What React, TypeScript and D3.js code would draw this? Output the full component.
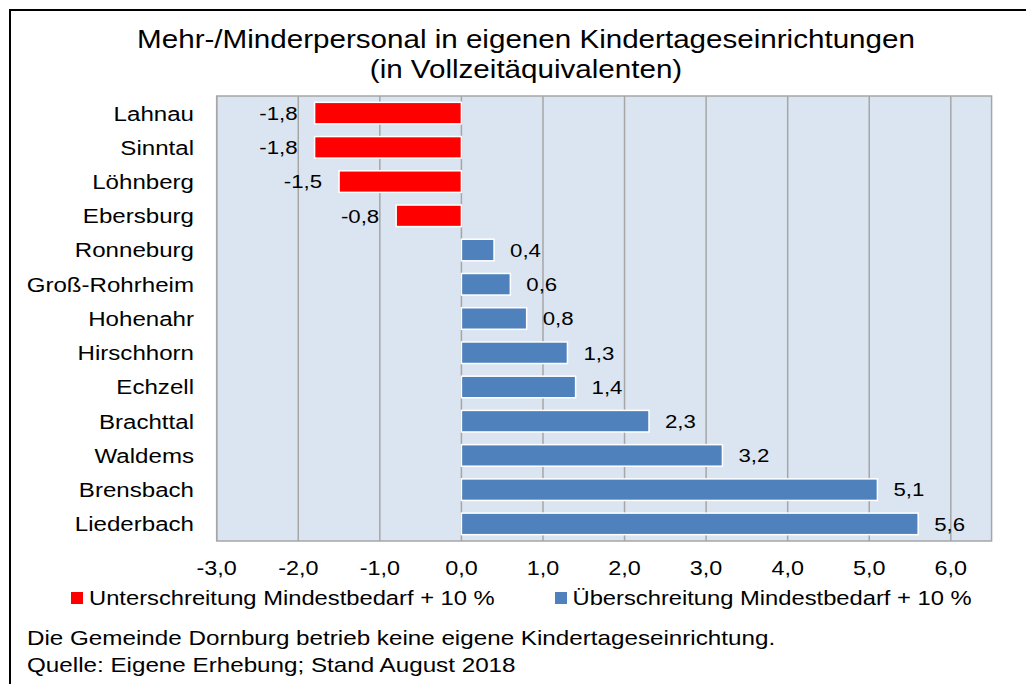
import React from "react";
import * as d3 from "d3";

const categories = ["Lahnau", "Sinntal", "Löhnberg", "Ebersburg", "Ronneburg", "Groß-Rohrheim", "Hohenahr", "Hirschhorn", "Echzell", "Brachttal", "Waldems", "Brensbach", "Liederbach"];
const values = [-1.8, -1.8, -1.5, -0.8, 0.4, 0.6, 0.8, 1.3, 1.4, 2.3, 3.2, 5.1, 5.6];
const tickValues = [-3, -2, -1, 0, 1, 2, 3, 4, 5, 6];
const titleLines = ["Mehr-/Minderpersonal in eigenen Kindertageseinrichtungen", "(in Vollzeitäquivalenten)"];
const legendLabels = ["Unterschreitung Mindestbedarf + 10 %", "Überschreitung Mindestbedarf + 10 %"];
const notes = ["Die Gemeinde Dornburg betrieb keine eigene Kindertageseinrichtung.", "Quelle: Eigene Erhebung; Stand August 2018"];

const W = 1026, H = 684;
const SX = 1.17;
const FONT = "'Liberation Sans', Arial, sans-serif";
const RED = "#FF0000", BLUE = "#4F81BD", BG = "#DBE5F1", GRID = "#A6A6A6";
const fmt = (v: number) => v.toFixed(1).replace(".", ",");

function T({ x, y, size, anchor = "start", children }: any) {
  return (
    <text transform={`translate(${x},${y}) scale(${SX},1)`} fontSize={size} textAnchor={anchor} fontFamily={FONT} fill="#000">
      {children}
    </text>
  );
}

export default function App() {
  const left = 216.7, right = 991.6, top = 96, bottom = 541;
  const x = d3.scaleLinear().domain([-3, 6.5]).range([left, right]);
  const y = d3.scaleBand<string>().domain(categories).range([top, bottom]).paddingInner(0.37).paddingOuter(0.185);
  const band = y.step();
  const fs = 20;
  const cfs = 20.6;
  return (
    <svg width={W} height={H} style={{ position: "absolute", left: 0, top: 0, background: "#fff" }}>
      <rect x={10} y={10} width={W + 20} height={H + 20} fill="#fff" stroke="#000" strokeWidth={2} />
      {titleLines.map((t, i) => (
        <T key={i} x={526} y={48 + i * 30} size={25.3} anchor="middle">{t}</T>
      ))}
      <rect x={left} y={top} width={right - left} height={bottom - top} fill={BG} stroke={GRID} strokeWidth={1.5} />
      {tickValues.map((t) => (
        <line key={t} x1={x(t)} x2={x(t)} y1={top} y2={bottom} stroke={GRID} strokeWidth={1.5} />
      ))}
      {categories.map((c, i) => {
        const v = values[i];
        const x0 = x(Math.min(0, v)), x1 = x(Math.max(0, v));
        return (
          <rect key={c} x={x0} y={y(c)!} width={x1 - x0} height={y.bandwidth()} fill={v < 0 ? RED : BLUE} stroke="#fff" strokeWidth={1.5} />
        );
      })}
      {categories.map((c, i) => {
        const cy = top + (i + 0.5) * band;
        return <T key={c} x={194} y={cy + 0.36 * cfs} size={cfs} anchor="end">{c}</T>;
      })}
      {categories.map((c, i) => {
        const v = values[i];
        const cy = top + (i + 0.5) * band;
        return v < 0
          ? <T key={c} x={x(v) - 17} y={cy + 0.36 * 19} size={19} anchor="end">{fmt(v)}</T>
          : <T key={c} x={x(v) + 16} y={cy + 0.36 * 19} size={19} anchor="start">{fmt(v)}</T>;
      })}
      {tickValues.map((t) => (
        <T key={t} x={x(t)} y={568 + 0.36 * fs} size={fs} anchor="middle">{fmt(t)}</T>
      ))}
      <rect x={71} y={592} width={12} height={12} fill={RED} />
      <T x={89} y={598 + 0.36 * 20.3} size={20.3}>{legendLabels[0]}</T>
      <rect x={555} y={592} width={12} height={12} fill={BLUE} />
      <T x={572.5} y={598 + 0.36 * 20.3} size={20.3}>{legendLabels[1]}</T>
      {notes.map((n, i) => (
        <T key={i} x={27} y={645 + i * 27} size={20.7}>{n}</T>
      ))}
    </svg>
  );
}
